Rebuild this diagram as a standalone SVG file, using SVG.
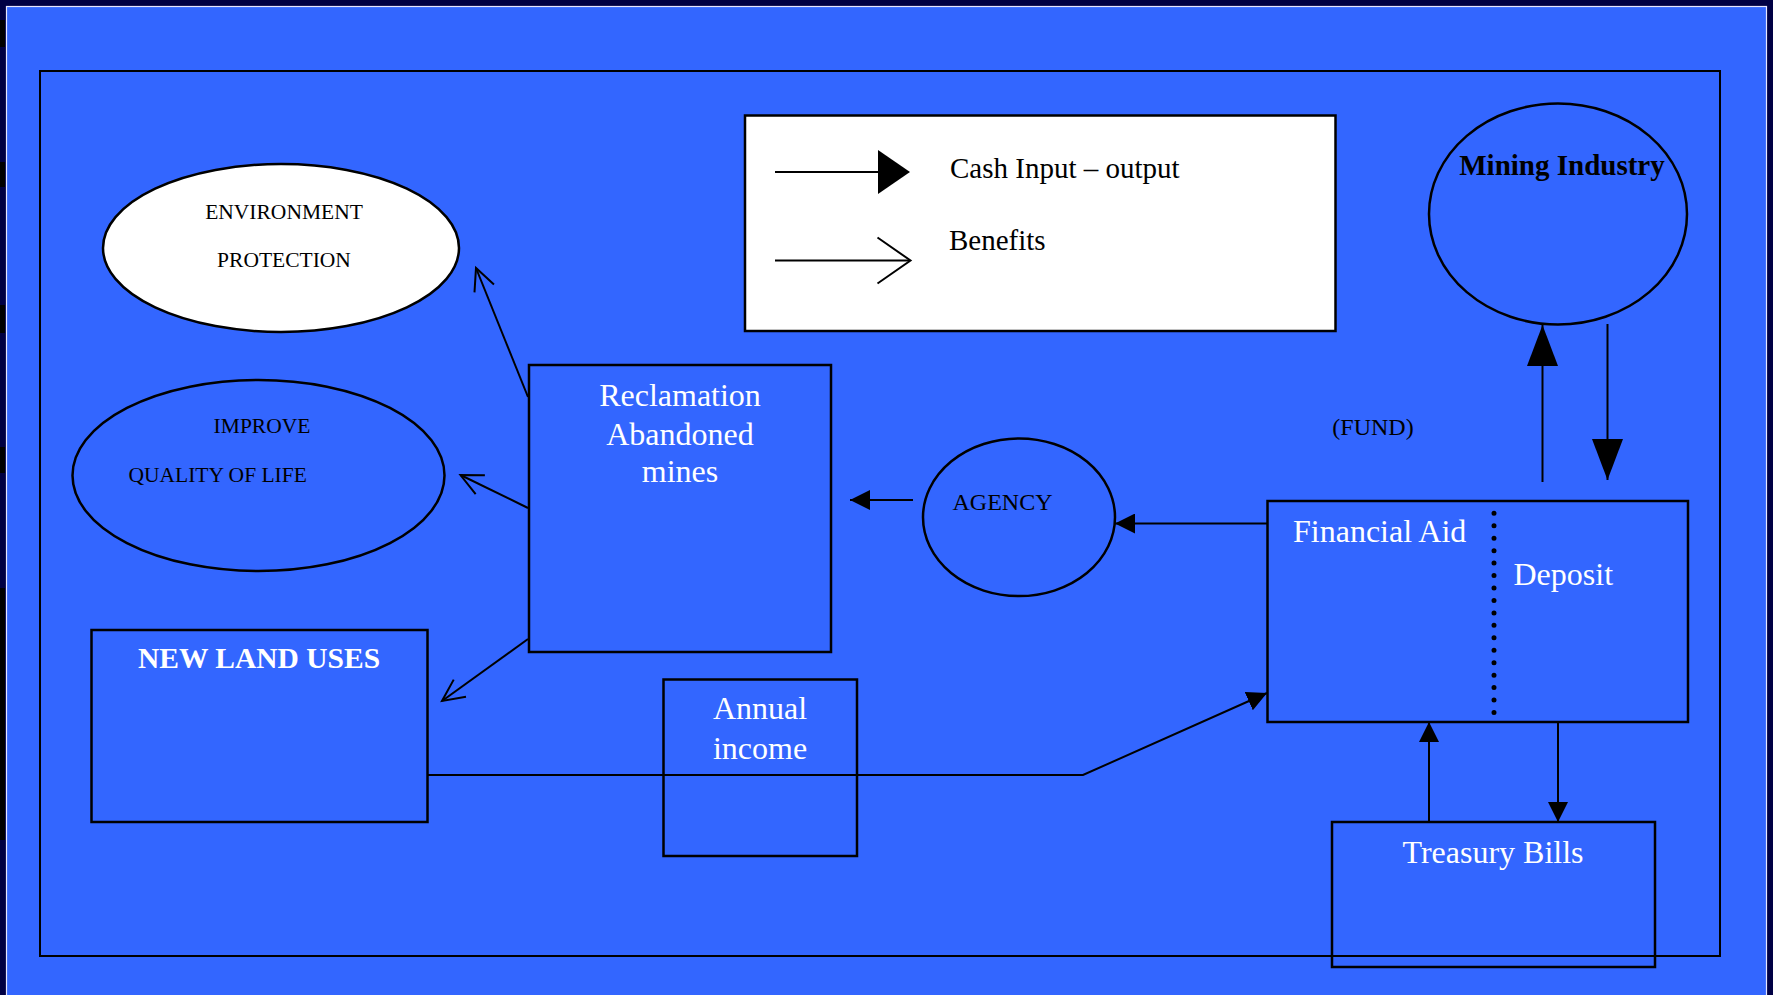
<svg xmlns="http://www.w3.org/2000/svg" width="1773" height="995" viewBox="0 0 1773 995">
<style>
.ln{stroke:#000;stroke-width:2;fill:none}
.box{stroke:#000;stroke-width:2.5;fill:none}
.wt{font-family:"Liberation Serif","Times New Roman",serif;fill:#fff;font-size:32px}
.bt{font-family:"Liberation Serif","Times New Roman",serif;fill:#000}
</style>
<defs>
<marker id="fs" markerUnits="userSpaceOnUse" viewBox="0 0 20 20" refX="20" refY="10" markerWidth="20" markerHeight="20" orient="auto"><path d="M0,0 L20,10 L0,20 z" fill="#000"/></marker>
<marker id="fb" markerUnits="userSpaceOnUse" viewBox="0 0 41 31" refX="41" refY="15.5" markerWidth="41" markerHeight="31" orient="auto"><path d="M0,0 L41,15.5 L0,31 z" fill="#000"/></marker>
<marker id="op" markerUnits="userSpaceOnUse" viewBox="-25 -13 28 26" refX="0" refY="0" markerWidth="28" markerHeight="26" orient="auto" overflow="visible"><path d="M-22,-10.5 L0,0 L-22,10.5" fill="none" stroke="#000" stroke-width="2"/></marker>
</defs>
<rect x="0" y="0" width="1773" height="995" fill="#000044"/>
<rect x="0" y="20" width="5" height="27" fill="#000"/>
<rect x="0" y="162" width="5" height="25" fill="#000"/>
<rect x="0" y="305" width="5" height="28" fill="#000"/>
<rect x="0" y="447" width="5" height="26" fill="#000"/>
<rect x="0" y="588" width="5" height="252" fill="#000"/>
<rect x="6.5" y="6.5" width="1760" height="1000" fill="#3366FF" stroke="#E6E6FF" stroke-width="1.2"/>
<rect id="frame" x="40" y="71" width="1680" height="885" fill="none" stroke="#000" stroke-width="2"/>

<g id="legend">
<rect x="745" y="115.5" width="590.5" height="215.5" fill="#fff" stroke="#000" stroke-width="2.5"/>
<line x1="775" y1="172" x2="880" y2="172" class="ln"/>
<path d="M878,150 L910,172 L878,194 z" fill="#000"/>
<line x1="775" y1="260.5" x2="910" y2="260.5" class="ln"/>
<path d="M877.5,237.5 L910.5,260.5 L877.5,283.5" class="ln"/>
<text x="950" y="178" class="bt" font-size="29">Cash Input – output</text>
<text x="949" y="250" class="bt" font-size="29">Benefits</text>
</g>

<g id="environment">
<ellipse cx="281" cy="248" rx="178" ry="84" fill="#fff" stroke="#000" stroke-width="2.5"/>
<text x="284" y="219" class="bt" font-size="21.5" text-anchor="middle">ENVIRONMENT</text>
<text x="284" y="267" class="bt" font-size="21.5" text-anchor="middle">PROTECTION</text>
</g>

<g id="improve">
<ellipse cx="258.5" cy="475.5" rx="186" ry="95.5" class="box"/>
<text x="262" y="433" class="bt" font-size="21.5" text-anchor="middle">IMPROVE</text>
<text x="128.5" y="482" class="bt" font-size="21.5">QUALITY OF LIFE</text>
</g>

<g id="newland">
<rect x="91.5" y="630" width="336" height="192" class="box"/>
<text x="259" y="668" class="wt" style="font-size:29.5px" font-weight="bold" text-anchor="middle">NEW LAND USES</text>
</g>

<g id="reclamation">
<rect x="529" y="365" width="302" height="287" class="box"/>
<text x="680" y="406" class="wt" text-anchor="middle">Reclamation</text>
<text x="680" y="445" class="wt" text-anchor="middle">Abandoned</text>
<text x="680" y="482" class="wt" text-anchor="middle">mines</text>
</g>

<g id="annual">
<rect x="663.5" y="679.5" width="193.5" height="176.5" class="box"/>
<text x="760" y="719" class="wt" text-anchor="middle">Annual</text>
<text x="760" y="759" class="wt" text-anchor="middle">income</text>
</g>

<g id="agency">
<ellipse cx="1019" cy="517.3" rx="96" ry="78.8" class="box"/>
<text x="1002.5" y="510" class="bt" font-size="24" text-anchor="middle">AGENCY</text>
</g>

<g id="fund">
<text x="1373" y="435" class="bt" font-size="24" text-anchor="middle">(FUND)</text>
</g>

<g id="financial">
<rect x="1267.5" y="501" width="420.5" height="221" class="box"/>
<line x1="1494" y1="513.3" x2="1494" y2="713" stroke="#000" stroke-width="5" stroke-linecap="round" stroke-dasharray="0 12.45"/>
<text x="1293" y="542" class="wt">Financial Aid</text>
<text x="1513.5" y="585" class="wt">Deposit</text>
</g>

<g id="treasury">
<rect x="1332" y="822" width="323" height="145" class="box"/>
<text x="1493" y="863" class="wt" text-anchor="middle">Treasury Bills</text>
</g>

<g id="mining">
<ellipse cx="1558" cy="214" rx="129" ry="110.5" class="box"/>
<text x="1562" y="175" class="bt" font-size="29" font-weight="bold" text-anchor="middle">Mining Industry</text>
</g>

<g id="connectors">
<line x1="528" y1="397" x2="476" y2="268" class="ln" marker-end="url(#op)"/>
<line x1="528" y1="508" x2="460.5" y2="475" class="ln" marker-end="url(#op)"/>
<line x1="528" y1="639" x2="442" y2="701" class="ln" marker-end="url(#op)"/>
<line x1="913" y1="500" x2="850" y2="500" class="ln" marker-end="url(#fs)"/>
<line x1="1267.5" y1="523.5" x2="1115" y2="523.5" class="ln" marker-end="url(#fs)"/>
<polyline points="428,775 1083,775 1267,693" class="ln" marker-end="url(#fs)"/>
<line x1="1429" y1="822" x2="1429" y2="722" class="ln" marker-end="url(#fs)"/>
<line x1="1558" y1="722" x2="1558" y2="822" class="ln" marker-end="url(#fs)"/>
<line x1="1542.5" y1="482" x2="1542.5" y2="325" class="ln" marker-end="url(#fb)"/>
<line x1="1607.5" y1="324" x2="1607.5" y2="480" class="ln" marker-end="url(#fb)"/>
</g>
</svg>
